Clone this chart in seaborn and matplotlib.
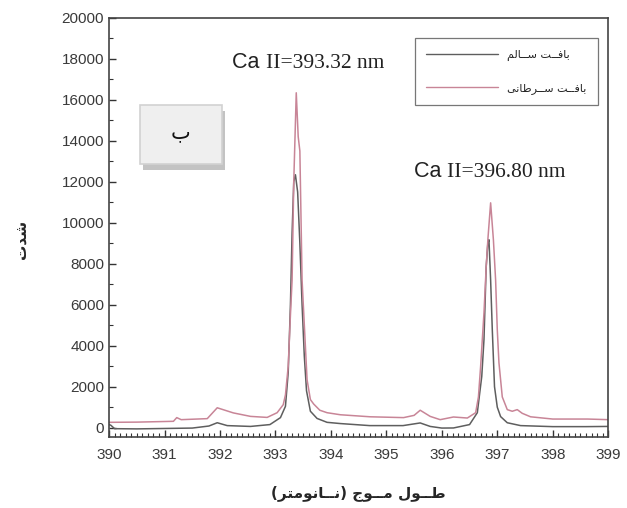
import numpy as np
import pandas as pd
import matplotlib
matplotlib.use("Agg")
import matplotlib.pyplot as plt
import matplotlib.patheffects as pe
from matplotlib.patches import Rectangle
from matplotlib.ticker import MultipleLocator
import seaborn as sns

# Arabic text written in presentation forms, visual (left-to-right) order
BAFT = "\uFE96\u0640\u0640\uFED3\uFE8E\uFE91"
SALEM = "\uFEE2\uFEDF\uFE8E\u0640\u0640\uFEB3"
SARATANI = "\uFEF0\uFEE7\uFE8E\uFEC3\uFEAE\u0640\u0640\uFEB3"
label_healthy = SALEM + " " + BAFT        # بافت سالم
label_cancer = SARATANI + " " + BAFT      # بافت سرطانی
ylabel_txt = "\uFE95\uFEAA\uFEB7"          # شدت
xlabel_txt = ("(" + "\uFEAE\uFE98\uFEE3\uFEEE\uFEE7\uFE8E\u0640\u0640\uFEE7" + ")"
              + " " + "\uFE9D\uFEEE\u0640\u0640\uFEE3"
              + " " + "\uFEDD\uFEEE\u0640\u0640\uFEC3")  # طول موج (نانومتر)
box_txt = "\uFE8F"                          # ب

# healthy tissue spectrum
wl_healthy = [390.0, 390.03, 390.1, 390.5, 391.0, 391.5, 391.8, 391.95, 392.13, 392.55,
              392.9, 393.09, 393.18, 393.23, 393.27, 393.30, 393.33, 393.36, 393.40,
              393.44, 393.48, 393.52, 393.56, 393.63, 393.75, 393.93, 394.17, 394.7,
              395.3, 395.61, 395.79, 396.0, 396.21, 396.5, 396.64, 396.72, 396.76,
              396.80, 396.83, 396.85, 396.88, 396.91, 396.95, 397.0, 397.06, 397.18,
              397.42, 398.0, 398.6, 399.0]
int_healthy = [150, 120, -50, -60, -40, -20, 80, 240, 100, 60,
               150, 490, 1040, 2700, 6000, 9500, 12000, 12340, 11500,
               9000, 6000, 3500, 1800, 800, 450, 260, 200, 100,
               100, 230, 60, -20, -15, 150, 730, 2500, 4290,
               7850, 9000, 9170, 7200, 4780, 2000, 1000, 540, 240,
               100, 50, 50, 60]

# cancerous tissue spectrum
wl_cancer = [390.0, 390.5, 391.0, 391.16, 391.22, 391.3, 391.77, 391.95, 392.24, 392.55,
             392.85, 393.03, 393.14, 393.18, 393.23, 393.27, 393.30, 393.33, 393.375,
             393.41, 393.44, 393.48, 393.54, 393.57, 393.63, 393.69, 393.8, 393.93,
             394.17, 394.71, 395.31, 395.5, 395.61, 395.79, 395.97, 396.21, 396.46,
             396.61, 396.66, 396.70, 396.76, 396.80, 396.83, 396.88, 396.93, 396.97,
             397.0, 397.03, 397.09, 397.18, 397.27, 397.36, 397.45, 397.6, 398.0,
             398.63, 399.0]
int_cancer = [260, 270, 300, 310, 490, 390, 440, 970, 720, 550,
              500, 730, 1120, 1600, 3000, 5500, 7200, 12000, 16340,
              14200, 13500, 7200, 3950, 2340, 1370, 1150, 850, 730,
              630, 530, 490, 600, 850, 550, 390, 520, 470,
              730, 1500, 3000, 5600, 7850, 9170, 10970, 9170, 7200,
              4780, 3170, 1500, 880, 800, 880, 700, 530, 420,
              420, 390]

df = pd.concat([
    pd.DataFrame({"wl": wl_healthy, "intensity": int_healthy, "tissue": "healthy"}),
    pd.DataFrame({"wl": wl_cancer, "intensity": int_cancer, "tissue": "cancer"}),
])

sns.set_style("ticks")
plt.rcParams["font.family"] = ["Liberation Sans", "DejaVu Sans"]

fig = plt.figure(figsize=(6.27, 5.08), dpi=100)
ax = fig.add_axes([0.174, 0.140, 0.796, 0.825])

colors = {"healthy": "#5e5e5e", "cancer": "#c88597"}
sns.lineplot(data=df, x="wl", y="intensity", hue="tissue", palette=colors,
             estimator=None, sort=False, linewidth=1.1, legend=False, ax=ax)

ax.set_xlim(390, 399)
ax.set_ylim(-450, 20000)
ax.xaxis.set_major_locator(MultipleLocator(1))
ax.xaxis.set_minor_locator(MultipleLocator(0.1))
ax.yaxis.set_major_locator(MultipleLocator(2000))
ax.yaxis.set_minor_locator(MultipleLocator(1000))
ax.tick_params(which="both", direction="in", colors="#333333", labelcolor="#3a3a3a",
               labelsize=11)
ax.tick_params(which="major", length=5, width=1)
ax.tick_params(which="minor", length=3, width=0.8)
ax.tick_params(axis="x", pad=8)
for s in ax.spines.values():
    s.set_color("#444444")
    s.set_linewidth(1.2)

ax.set_xlabel(xlabel_txt, family="DejaVu Sans", fontsize=11, fontweight="bold")
ax.set_ylabel(ylabel_txt, family="DejaVu Sans", fontsize=11, fontweight="bold")
ax.xaxis.set_label_coords(0.5, -0.134)
ax.xaxis.label.set_va("center")
ax.yaxis.set_label_coords(-0.174, 0.47)
ax.yaxis.label.set_va("center")

# peak labels
t1 = ax.text(392.22, 17560, "Ca ", family="Liberation Sans", fontsize=15.5, color="#222222")
ax.annotate("II=393.32 nm", xy=(1, 0), xycoords=t1, va="bottom",
            family="Liberation Serif", fontsize=15.5, color="#222222")
t2 = ax.text(395.49, 12240, "Ca ", family="Liberation Sans", fontsize=15.5, color="#222222")
ax.annotate("II=396.80 nm", xy=(1, 0), xycoords=t2, va="bottom",
            family="Liberation Serif", fontsize=15.5, color="#222222")

# "ب" panel box with shadow
box = Rectangle((0.062, 0.651), 0.164, 0.141, transform=ax.transAxes,
                facecolor="#efefef", edgecolor="#d2d2d2", linewidth=1.2, zorder=4,
                path_effects=[pe.SimplePatchShadow(offset=(2, -4), shadow_rgbFace="#b5b5b5",
                                                   alpha=0.8), pe.Normal()])
ax.add_patch(box)
ax.text(0.062 + 0.082, 0.651 + 0.075, box_txt, transform=ax.transAxes, ha="center",
        va="center", family="DejaVu Sans", fontsize=15, color="#111111", zorder=5)

# legend
handles = [plt.Line2D([], [], color=colors["healthy"], linewidth=1.0),
           plt.Line2D([], [], color=colors["cancer"], linewidth=1.0)]
leg = ax.legend(handles, [label_healthy, label_cancer], loc="upper right",
                bbox_to_anchor=(0.99, 0.964), frameon=True, fancybox=False,
                prop={"family": "DejaVu Sans", "size": 8}, handlelength=6.5,
                labelspacing=2.0, borderpad=1.0, handletextpad=0.8)
leg.get_frame().set_edgecolor("#555555")
leg.get_frame().set_linewidth(0.9)

fig.savefig("out.png", dpi=100)
